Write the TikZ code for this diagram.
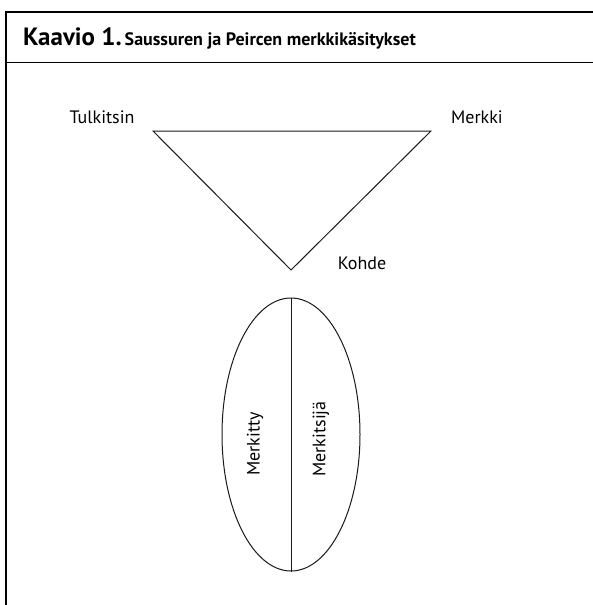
\documentclass[tikz,border=0pt]{standalone}
\usepackage{fontspec}
\setmainfont{PT Sans}
\usetikzlibrary{shapes.geometric}
\begin{document}
\begin{tikzpicture}[x=1pt,y=-1pt,
  lbl/.style={font=\fontsize{18}{21}\selectfont, inner sep=0pt},
  framestyle/.style={line width=1.4pt, draw=black},
  outline/.style={line width=1pt, draw=black!90}]
\useasboundingbox (0,0) rectangle (593,605);
% frame
\draw[framestyle] (6,605) -- (6,12) -- (593,12);
\draw[line width=1pt] (6,62) -- (593,62);
% title
\node[anchor=base west, inner sep=0pt] (title) at (23,45)
  {\fontsize{25}{28}\selectfont\bfseries Kaavio 1.\hspace{3pt}\fontsize{18}{21}\selectfont Saussuren ja Peircen merkkikäsitykset};
% triangle
\coordinate (tl) at (153,131);
\coordinate (tr) at (431,131);
\coordinate (bt) at (291,270);
\draw[outline, line join=miter] (tl) -- (tr) -- (bt) -- cycle;
\node[lbl] (tulk) at (102,117) {Tulkitsin};
\node[lbl] (merkki) at (477,117) {Merkki};
\node[lbl] (kohde) at (362,263) {Kohde};
% ellipse
\node[ellipse, outline, minimum width=138pt, minimum height=273pt, inner sep=0pt] (ell) at (291,434.5) {};
\draw[outline] (ell.north) -- (ell.south);
\node[lbl, rotate=90] (merkitty) at (255,444) {Merkitty};
\node[lbl, rotate=90] (merkitsija) at (321,439) {Merkitsijä};
\end{tikzpicture}
\end{document}
